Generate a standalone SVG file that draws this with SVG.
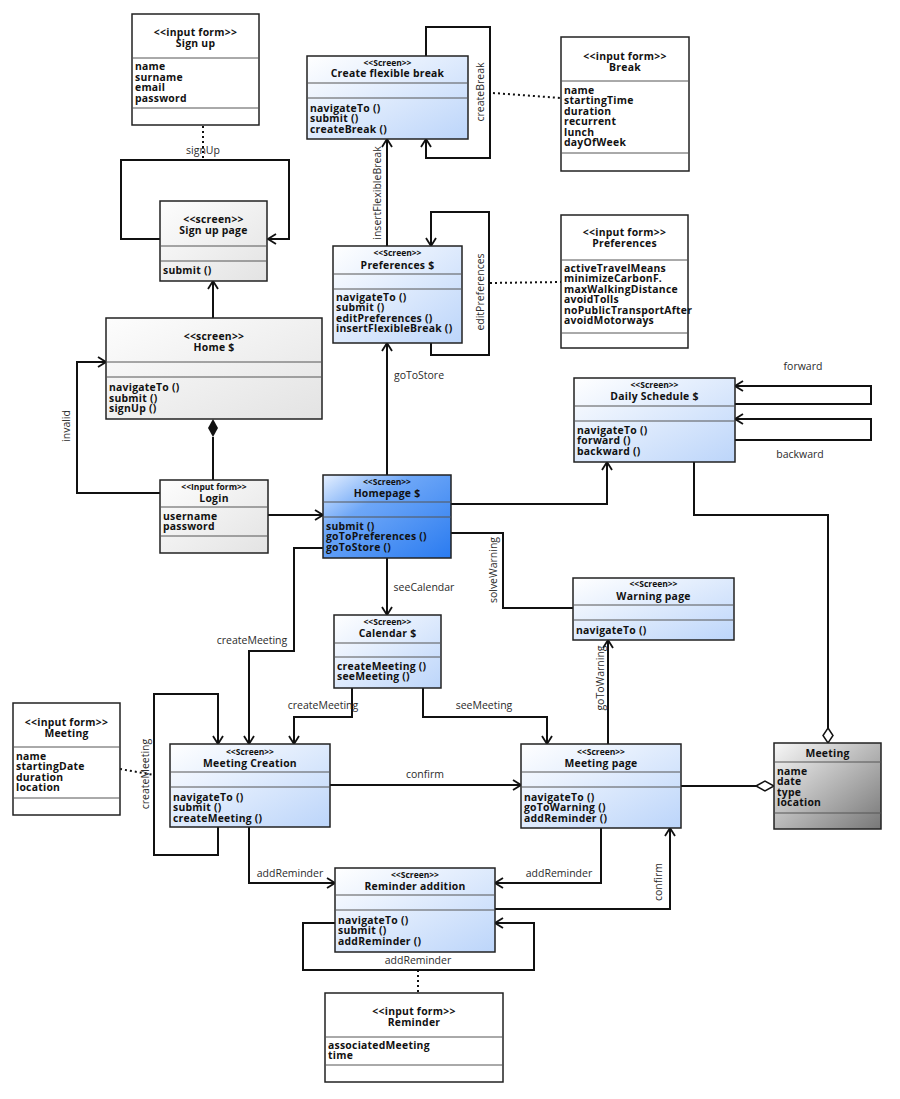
<svg xmlns="http://www.w3.org/2000/svg" width="900" height="1099" viewBox="0 0 900 1099">
<defs>
<linearGradient id="gBlue" x1="0" y1="0" x2="1" y2="1"><stop offset="0" stop-color="#ffffff"/><stop offset="1" stop-color="#bcd5fa"/></linearGradient>
<linearGradient id="gHome" x1="0" y1="0" x2="1" y2="1"><stop offset="0" stop-color="#e6f0ff"/><stop offset="0.35" stop-color="#6ea7f7"/><stop offset="1" stop-color="#2a7bf0"/></linearGradient>
<linearGradient id="gGray" x1="0" y1="0" x2="1" y2="1"><stop offset="0" stop-color="#fdfdfd"/><stop offset="1" stop-color="#e3e3e3"/></linearGradient>
<linearGradient id="gMeet" x1="0" y1="0" x2="1" y2="1"><stop offset="0" stop-color="#f8f8f8"/><stop offset="1" stop-color="#777777"/></linearGradient>
<marker id="arr" viewBox="0 0 12 12" refX="11" refY="6" markerWidth="12" markerHeight="12" markerUnits="userSpaceOnUse" orient="auto"><path d="M3,1 L11,6 L3,11" fill="none" stroke="#111" stroke-width="1.8"/></marker>
</defs>
<style>
.box{stroke:#222;stroke-width:1.5}
.dv{stroke:#555;stroke-width:1}
.t{font-family:"Open Sans","Noto Sans",sans-serif;font-size:10.4px;letter-spacing:0.25px;font-weight:bold;fill:#111}
.c{text-anchor:middle}
.s{font-size:8.5px;letter-spacing:0}
.lbl{font-family:"Open Sans","Noto Sans",sans-serif;font-size:10.5px;fill:#2b2b2b;text-anchor:middle}
.cn{fill:none;stroke:#111;stroke-width:2}
.ar{marker-end:url(#arr)}
.dot{fill:none;stroke:#111;stroke-width:2;stroke-dasharray:2,3}
</style>
<rect width="900" height="1099" fill="#ffffff"/>

<g id="connectors">
<path class="dot" d="M203,126 V160"/>
<path class="cn ar" d="M160,239 H121 V160 H289 V239 H268"/>
<path class="cn ar" d="M213,318 V281"/>
<path class="cn" d="M213,437 V480"/>
<polygon points="213,419 218,428 213,437 208,428" fill="#111"/>
<path class="cn ar" d="M160,493 H77 V362 H106"/>
<path class="cn ar" d="M268,515 H323"/>
<path class="cn ar" d="M387,475 V343"/>
<path class="cn ar" d="M387,246 V139"/>
<path class="cn ar" d="M426,56 V27 H490 V158 H426 V139"/>
<path class="dot" d="M493,93 L561,98"/>
<path class="cn ar" d="M431,343 V355 H489 V212 H431 V246"/>
<path class="dot" d="M490,283 L561,282"/>
<path class="cn ar" d="M451,504 H607 V462"/>
<path class="cn ar" d="M735,404 H871 V386 H735"/>
<path class="cn ar" d="M735,440 H871 V419 H735"/>
<path class="cn" d="M694,462 V515 H828 V728"/>
<polygon points="828,728 833,735.5 828,743 823,735.5" fill="#fff" stroke="#111" stroke-width="1.5"/>
<path class="cn" d="M451,533 H503 V608 H573"/>
<path class="cn ar" d="M387,558 V615"/>
<path class="cn ar" d="M323,548 H294 V651 H249 V744"/>
<path class="cn ar" d="M352,688 V717 H294 V744"/>
<path class="cn ar" d="M423,688 V717 H547 V744"/>
<path class="cn ar" d="M608,744 V640"/>
<path class="cn ar" d="M218,827 V855 H154 V694 H218 V744"/>
<path class="dot" d="M120,769 L154,775"/>
<path class="cn ar" d="M330,785 H521"/>
<path class="cn" d="M681,786 H756"/>
<polygon points="756,786 765,781 774,786 765,791" fill="#fff" stroke="#111" stroke-width="1.5"/>
<path class="cn ar" d="M249,827 V883 H335"/>
<path class="cn ar" d="M601,828 V883 H495"/>
<path class="cn ar" d="M495,909 H670 V828"/>
<path class="cn ar" d="M335,923 H303 V970 H534 V923 H495"/>
<path class="dot" d="M418,970 V993"/>

<text class="lbl" x="203" y="153.5">signUp</text>
<text class="lbl" x="70" y="426" transform="rotate(-90 70 426)">invalid</text>
<text class="lbl" x="381" y="193" transform="rotate(-90 381 193)">insertFlexibleBreak</text>
<text class="lbl" x="484" y="92" transform="rotate(-90 484 92)">createBreak</text>
<text class="lbl" x="484" y="292" transform="rotate(-90 484 292)">editPreferences</text>
<text class="lbl" x="419" y="378.5">goToStore</text>
<text class="lbl" x="803" y="369.5">forward</text>
<text class="lbl" x="800" y="457.5">backward</text>
<text class="lbl" x="496.5" y="570" transform="rotate(-90 496.5 570)">solveWarning</text>
<text class="lbl" x="424" y="590.5">seeCalendar</text>
<text class="lbl" x="252" y="643.5">createMeeting</text>
<text class="lbl" x="323" y="708.5">createMeeting</text>
<text class="lbl" x="484" y="708.5">seeMeeting</text>
<text class="lbl" x="603.5" y="678" transform="rotate(-90 603.5 678)">goToWarning</text>
<text class="lbl" x="148.5" y="774" transform="rotate(-90 148.5 774)">createMeeting</text>
<text class="lbl" x="425" y="777.5">confirm</text>
<text class="lbl" x="290" y="876.5">addReminder</text>
<text class="lbl" x="559" y="876.5">addReminder</text>
<text class="lbl" x="662" y="882" transform="rotate(-90 662 882)">confirm</text>
<text class="lbl" x="418" y="963.5">addReminder</text>
</g>

<g id="signupForm">
<rect class="box" x="132" y="14" width="127" height="111" fill="#fff"/>
<line class="dv" x1="132" y1="58" x2="259" y2="58"/><line class="dv" x1="132" y1="108" x2="259" y2="108"/>
<text class="t c" x="195.5" y="35.5">&lt;&lt;input form&gt;&gt;<tspan x="195.5" dy="11">Sign up</tspan></text>
<text class="t" x="135" y="70">name<tspan x="135" dy="10.6">surname</tspan><tspan x="135" dy="10.6">email</tspan><tspan x="135" dy="10.6">password</tspan></text>
</g>

<g id="signupPage">
<rect class="box" x="160" y="201" width="107" height="80" fill="url(#gGray)"/>
<line class="dv" x1="160" y1="246" x2="267" y2="246"/><line class="dv" x1="160" y1="261" x2="267" y2="261"/>
<text class="t c" x="213.5" y="223">&lt;&lt;screen&gt;&gt;<tspan x="213.5" dy="11">Sign up page</tspan></text>
<text class="t" x="163" y="273.5">submit ()</text>
</g>

<g id="home">
<rect class="box" x="106" y="318" width="216" height="101" fill="url(#gGray)"/>
<line class="dv" x1="106" y1="362" x2="322" y2="362"/><line class="dv" x1="106" y1="377" x2="322" y2="377"/>
<text class="t c" x="214" y="339.5">&lt;&lt;screen&gt;&gt;<tspan x="214" dy="11">Home $</tspan></text>
<text class="t" x="109" y="391">navigateTo ()<tspan x="109" dy="10.5">submit ()</tspan><tspan x="109" dy="10.5">signUp ()</tspan></text>
</g>

<g id="login">
<rect class="box" x="160" y="480" width="108" height="73" fill="url(#gGray)"/>
<line class="dv" x1="160" y1="507" x2="268" y2="507"/><line class="dv" x1="160" y1="536" x2="268" y2="536"/>
<text class="t c" x="214" y="490"><tspan class="s">&lt;&lt;Input form&gt;&gt;</tspan><tspan x="214" dy="11.5">Login</tspan></text>
<text class="t" x="163" y="519.5">username<tspan x="163" dy="10.5">password</tspan></text>
</g>

<g id="createBreak">
<rect class="box" x="307" y="56" width="161" height="83" fill="url(#gBlue)"/>
<line class="dv" x1="307" y1="83" x2="468" y2="83"/><line class="dv" x1="307" y1="98" x2="468" y2="98"/>
<text class="t c" x="387.5" y="66"><tspan class="s">&lt;&lt;Screen&gt;&gt;</tspan><tspan x="387.5" dy="11">Create flexible break</tspan></text>
<text class="t" x="310" y="111.5">navigateTo ()<tspan x="310" dy="10.5">submit ()</tspan><tspan x="310" dy="10.5">createBreak ()</tspan></text>
</g>

<g id="breakForm">
<rect class="box" x="561" y="37" width="128" height="134" fill="#fff"/>
<line class="dv" x1="561" y1="81" x2="689" y2="81"/><line class="dv" x1="561" y1="153" x2="689" y2="153"/>
<text class="t c" x="625" y="59.5">&lt;&lt;input form&gt;&gt;<tspan x="625" dy="11">Break</tspan></text>
<text class="t" x="564" y="93.5">name<tspan x="564" dy="10.5">startingTime</tspan><tspan x="564" dy="10.5">duration</tspan><tspan x="564" dy="10.5">recurrent</tspan><tspan x="564" dy="10.5">lunch</tspan><tspan x="564" dy="10.5">dayOfWeek</tspan></text>
</g>

<g id="preferences">
<rect class="box" x="333" y="246" width="129" height="97" fill="url(#gBlue)"/>
<line class="dv" x1="333" y1="274" x2="462" y2="274"/><line class="dv" x1="333" y1="289" x2="462" y2="289"/>
<text class="t c" x="397.5" y="256"><tspan class="s">&lt;&lt;Screen&gt;&gt;</tspan><tspan x="397.5" dy="12.5">Preferences $</tspan></text>
<text class="t" x="336" y="300.5">navigateTo ()<tspan x="336" dy="10.5">submit ()</tspan><tspan x="336" dy="10.5">editPreferences ()</tspan><tspan x="336" dy="10.5">insertFlexibleBreak ()</tspan></text>
</g>

<g id="preferencesForm">
<rect class="box" x="561" y="215" width="127" height="133" fill="#fff"/>
<line class="dv" x1="561" y1="260" x2="688" y2="260"/><line class="dv" x1="561" y1="333" x2="688" y2="333"/>
<text class="t c" x="624.5" y="235.5">&lt;&lt;input form&gt;&gt;<tspan x="624.5" dy="11">Preferences</tspan></text>
<text class="t" x="564" y="271.5">activeTravelMeans<tspan x="564" dy="10.5">minimizeCarbonF.</tspan><tspan x="564" dy="10.5">maxWalkingDistance</tspan><tspan x="564" dy="10.5">avoidTolls</tspan><tspan x="564" dy="10.5">noPublicTransportAfter</tspan><tspan x="564" dy="10.5">avoidMotorways</tspan></text>
</g>

<g id="dailySchedule">
<rect class="box" x="574" y="378" width="161" height="84" fill="url(#gBlue)"/>
<line class="dv" x1="574" y1="406" x2="735" y2="406"/><line class="dv" x1="574" y1="421" x2="735" y2="421"/>
<text class="t c" x="654.5" y="388"><tspan class="s">&lt;&lt;Screen&gt;&gt;</tspan><tspan x="654.5" dy="11.5">Daily Schedule $</tspan></text>
<text class="t" x="577" y="433.5">navigateTo ()<tspan x="577" dy="10.5">forward ()</tspan><tspan x="577" dy="10.5">backward ()</tspan></text>
</g>

<g id="homepage">
<rect class="box" x="323" y="475" width="128" height="83" fill="url(#gHome)"/>
<line class="dv" x1="323" y1="502" x2="451" y2="502"/><line class="dv" x1="323" y1="517" x2="451" y2="517"/>
<text class="t c" x="387" y="484.5"><tspan class="s">&lt;&lt;Screen&gt;&gt;</tspan><tspan x="387" dy="12">Homepage $</tspan></text>
<text class="t" x="326" y="529.5">submit ()<tspan x="326" dy="10.5">goToPreferences ()</tspan><tspan x="326" dy="10.5">goToStore ()</tspan></text>
</g>

<g id="calendar">
<rect class="box" x="334" y="615" width="107" height="73" fill="url(#gBlue)"/>
<line class="dv" x1="334" y1="643" x2="441" y2="643"/><line class="dv" x1="334" y1="657" x2="441" y2="657"/>
<text class="t c" x="387.5" y="625"><tspan class="s">&lt;&lt;Screen&gt;&gt;</tspan><tspan x="387.5" dy="11.5">Calendar $</tspan></text>
<text class="t" x="337" y="669.5">createMeeting ()<tspan x="337" dy="10.5">seeMeeting ()</tspan></text>
</g>

<g id="warningPage">
<rect class="box" x="573" y="578" width="161" height="62" fill="url(#gBlue)"/>
<line class="dv" x1="573" y1="605" x2="734" y2="605"/><line class="dv" x1="573" y1="620" x2="734" y2="620"/>
<text class="t c" x="653.5" y="587"><tspan class="s">&lt;&lt;Screen&gt;&gt;</tspan><tspan x="653.5" dy="12.5">Warning page</tspan></text>
<text class="t" x="576" y="633.5">navigateTo ()</text>
</g>

<g id="meetingForm">
<rect class="box" x="13" y="703" width="107" height="112" fill="#fff"/>
<line class="dv" x1="13" y1="747" x2="120" y2="747"/><line class="dv" x1="13" y1="798" x2="120" y2="798"/>
<text class="t c" x="66.5" y="725.5">&lt;&lt;input form&gt;&gt;<tspan x="66.5" dy="11">Meeting</tspan></text>
<text class="t" x="16" y="759.5">name<tspan x="16" dy="10.5">startingDate</tspan><tspan x="16" dy="10.5">duration</tspan><tspan x="16" dy="10.5">location</tspan></text>
</g>

<g id="meetingCreation">
<rect class="box" x="170" y="744" width="160" height="83" fill="url(#gBlue)"/>
<line class="dv" x1="170" y1="772" x2="330" y2="772"/><line class="dv" x1="170" y1="787" x2="330" y2="787"/>
<text class="t c" x="250" y="755"><tspan class="s">&lt;&lt;Screen&gt;&gt;</tspan><tspan x="250" dy="11.5">Meeting Creation</tspan></text>
<text class="t" x="173" y="800.5">navigateTo ()<tspan x="173" dy="10.5">submit ()</tspan><tspan x="173" dy="10.5">createMeeting ()</tspan></text>
</g>

<g id="meetingPage">
<rect class="box" x="521" y="744" width="160" height="84" fill="url(#gBlue)"/>
<line class="dv" x1="521" y1="772" x2="681" y2="772"/><line class="dv" x1="521" y1="787" x2="681" y2="787"/>
<text class="t c" x="601" y="755"><tspan class="s">&lt;&lt;Screen&gt;&gt;</tspan><tspan x="601" dy="11.5">Meeting page</tspan></text>
<text class="t" x="524" y="800.5">navigateTo ()<tspan x="524" dy="10.5">goToWarning ()</tspan><tspan x="524" dy="10.5">addReminder ()</tspan></text>
</g>

<g id="meeting">
<rect class="box" x="774" y="743" width="107" height="86" fill="url(#gMeet)"/>
<line class="dv" x1="774" y1="762" x2="881" y2="762"/><line class="dv" x1="774" y1="813" x2="881" y2="813"/>
<text class="t c" x="827.5" y="756.5">Meeting</text>
<text class="t" x="777" y="774.5">name<tspan x="777" dy="10.5">date</tspan><tspan x="777" dy="10.5">type</tspan><tspan x="777" dy="10.5">location</tspan></text>
</g>

<g id="reminderAddition">
<rect class="box" x="335" y="868" width="160" height="84" fill="url(#gBlue)"/>
<line class="dv" x1="335" y1="895" x2="495" y2="895"/><line class="dv" x1="335" y1="910" x2="495" y2="910"/>
<text class="t c" x="415" y="878"><tspan class="s">&lt;&lt;Screen&gt;&gt;</tspan><tspan x="415" dy="11.5">Reminder addition</tspan></text>
<text class="t" x="338" y="923.5">navigateTo ()<tspan x="338" dy="10.5">submit ()</tspan><tspan x="338" dy="10.5">addReminder ()</tspan></text>
</g>

<g id="reminderForm">
<rect class="box" x="325" y="993" width="178" height="89" fill="#fff"/>
<line class="dv" x1="325" y1="1037" x2="503" y2="1037"/><line class="dv" x1="325" y1="1065" x2="503" y2="1065"/>
<text class="t c" x="414" y="1014.5">&lt;&lt;input form&gt;&gt;<tspan x="414" dy="11">Reminder</tspan></text>
<text class="t" x="328" y="1048.5">associatedMeeting<tspan x="328" dy="10.5">time</tspan></text>
</g>
</svg>
